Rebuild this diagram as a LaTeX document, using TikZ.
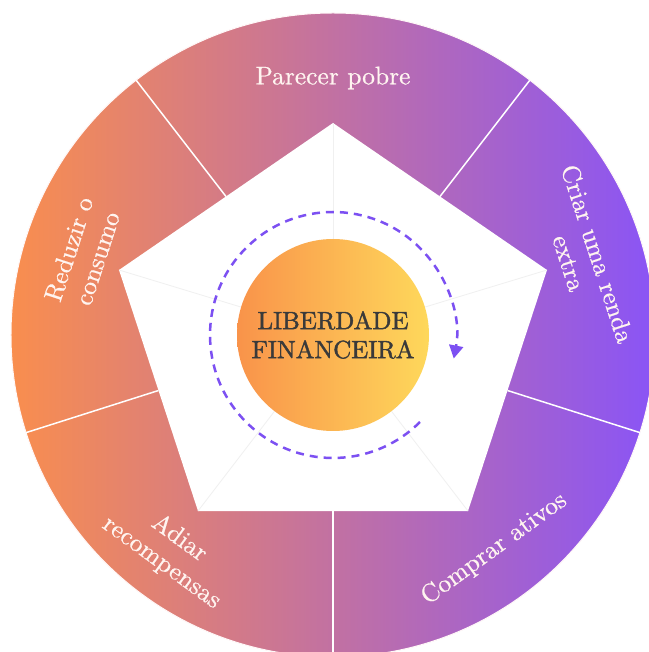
\documentclass[tikz,border=0pt]{standalone}
\usepackage{fontspec}
\usetikzlibrary{arrows.meta, calc}

\newfontfamily\labelfont{lmroman10-regular}[Extension=.otf, FakeBold=0.6]
\newfontfamily\corefont{lmroman10-regular}[Extension=.otf, FakeBold=1.6]

\definecolor{wheelorange}{HTML}{F98E4E}
\definecolor{wheelpink}{HTML}{C46CA6}
\definecolor{wheelpurple}{HTML}{8A54F6}
\definecolor{coreorange}{HTML}{F9934A}
\definecolor{coreyellow}{HTML}{FED85B}
\definecolor{loopviolet}{HTML}{7C50F2}
\definecolor{coretext}{HTML}{3A3A3A}
\definecolor{labelwhite}{HTML}{FFF4F0}

\begin{document}
\begin{tikzpicture}[
    x=1pt, y=1pt,
    segment/.style={
        text=labelwhite,
        align=center,
        inner sep=0pt,
        font=\labelfont\fontsize{25.5}{30}\selectfont
    },
    core/.style={
        circle,
        minimum size=192pt,
        left color=coreorange,
        right color=coreyellow,
        text=coretext,
        align=center,
        inner sep=0pt,
        font=\corefont\fontsize{25}{29}\selectfont
    },
    divider/.style={
        draw=white,
        line width=1.5pt
    },
    spoke/.style={
        draw=black!6,
        line width=0.8pt
    },
    cycleline/.style={
        draw=loopviolet,
        line width=2.5pt,
        dash pattern=on 8pt off 6pt,
        -{Triangle[length=13pt,width=14pt]}
    }
]

    % --- Canvas ---
    \fill[white] (-333,-317) rectangle (315,335);
    \useasboundingbox (-333,-317) rectangle (315,335);
    \coordinate (o) at (0,0);

    % --- Outer wheel ---
    \shade[left color=wheelorange, middle color=wheelpink, right color=wheelpurple] (o) circle (322);
    \draw[white!88!pink, line width=1pt] (o) circle (322);

    % --- Pentagon ---
    \coordinate (p1) at (0,212);
    \coordinate (p2) at (-214,65);
    \coordinate (p3) at (-135,-176);
    \coordinate (p4) at (135,-176);
    \coordinate (p5) at (214,65);
    \fill[white] (p1) -- (p2) -- (p3) -- (p4) -- (p5) -- cycle;

    % segment borders, out from the middle of each side
    \foreach \a/\b in {p1/p2, p2/p3, p3/p4, p4/p5, p5/p1} {
        \coordinate (m) at ($(\a)!0.5!(\b)$);
        \draw[divider] (m) -- ($(o)!322pt!(m)$);
    }

    % faint spokes to the corners
    \foreach \p in {p1, p2, p3, p4, p5}
        \draw[spoke] (o) -- (\p);

    % --- Cycle around the core ---
    \draw[cycleline] (-45:123) arc[start angle=-45, end angle=-371, radius=123];

    % --- Nodes ---
    \node[core] (core) at (o) {LIBERDADE\\FINANCEIRA};

    \node[segment] (parecer) at (90:257) {Parecer pobre};
    \node[segment, rotate=72] (reduzir) at (162:263) {Reduzir o\\consumo};
    \node[segment, rotate=-72] (criar) at (17:262) {Criar uma renda\\extra};
    \node[segment, rotate=-36] (adiar) at (233:270) {Adiar\\recompensas};
    \node[segment, rotate=36] (comprar) at (307:268) {Comprar ativos};

\end{tikzpicture}
\end{document}
